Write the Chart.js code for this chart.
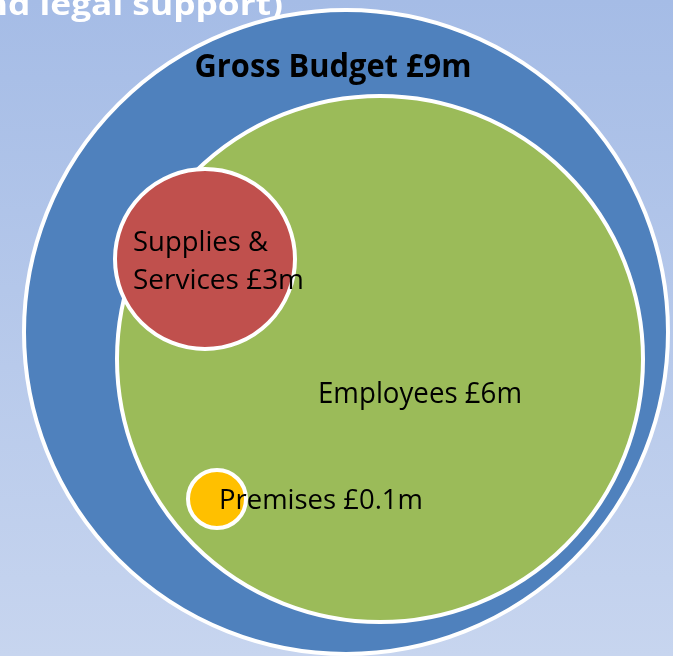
<!DOCTYPE html>
<html>
<head>
<meta charset="utf-8">
<script src="https://cdn.jsdelivr.net/npm/chart.js@4.4.1/dist/chart.umd.min.js"></script>
<style>
  html, body { margin: 0; padding: 0; }
  #wrap { width: 673px; height: 656px; }
</style>
</head>
<body>
<div id="wrap"><canvas id="myChart"></canvas></div>
<script>
// budget split, £m
const categories = ['Gross Budget', 'Employees', 'Supplies & Services', 'Premises'];
const budget = [9, 6, 3, 0.1];
// bubble data (x, y, radius)
const bubbleX = [346, 380, 205, 217];
const bubbleY = [332, 359, 259, 499];
const bubbleR = [322, 263, 90, 29];

const colores = ['#4f81bd', '#9bbb59', '#c0504d', '#ffc000'];

// label placement relative to each bubble centre
const etiquetas = [
    { lines: [categories[0] + ' £' + budget[0] + 'm'], dx: -13, dy: [-255], align: 'center', bold: true, size: 33, width: [277] },
    { lines: [categories[1] + ' £' + budget[1] + 'm'], dx: 40, dy: [44], align: 'center', bold: false, size: 29, width: [204] },
    { lines: ['Supplies &', 'Services £' + budget[2] + 'm'], dx: -72, dy: [-8, 30], align: 'left', bold: false, size: 27, width: [135, 171] },
    { lines: [categories[3] + ' £' + budget[3] + 'm'], dx: 2, dy: [10], align: 'left', bold: false, size: 28, width: [204] }
];

// draws text squeezed/stretched to a given width
function textoAjustado(c, t, x, y, ancho, align) {
    const w = c.measureText(t).width;
    const s = ancho / w;
    c.save();
    c.translate(x, y);
    c.scale(s, 1);
    c.textAlign = align;
    c.fillText(t, 0, 0);
    c.restore();
}

const fondo = {
    id: 'fondo',
    beforeDraw(chart) {
        const c = chart.ctx;
        const g = c.createLinearGradient(0, 0, 0, chart.height);
        g.addColorStop(0, '#a5bce6');
        g.addColorStop(1, '#c7d5ef');
        c.save();
        c.fillStyle = g;
        c.fillRect(0, 0, chart.width, chart.height);
        // title text cut off at the top edge
        c.fillStyle = '#ffffff';
        c.font = 'bold 30px "Open Sans"';
        c.textBaseline = 'alphabetic';
        const s = 275 / c.measureText('d legal support)').width;
        c.translate(283, 15);
        c.scale(s, 1);
        c.textAlign = 'right';
        c.fillText('and legal support)', 0, 0);
        c.restore();
    }
};

const textos = {
    id: 'textos',
    afterDatasetsDraw(chart) {
        const c = chart.ctx;
        const xs = chart.scales.x, ys = chart.scales.y;
        c.save();
        c.fillStyle = '#000000';
        c.textBaseline = 'alphabetic';
        etiquetas.forEach(function (e, i) {
            const cx = xs.getPixelForValue(bubbleX[i]);
            const cy = ys.getPixelForValue(bubbleY[i]);
            c.font = (e.bold ? 'bold ' : '') + e.size + 'px "Open Sans"';
            e.lines.forEach(function (t, j) {
                textoAjustado(c, t, cx + e.dx, cy + e.dy[j], e.width[j], e.align);
            });
        });
        c.restore();
    }
};

const ctx = document.getElementById('myChart').getContext('2d');
const myChart = new Chart(ctx, {
    type: 'bubble',
    data: {
        labels: categories,
        datasets: [{
            label: 'budget',
            data: categories.map(function (c, i) {
                return { x: bubbleX[i], y: bubbleY[i], r: bubbleR[i] };
            }),
            backgroundColor: colores,
            borderColor: '#ffffff',
            borderWidth: 4,
            hoverBorderWidth: 4,
            hoverRadius: 0,
            clip: false
        }]
    },
    options: {
        responsive: true,
        maintainAspectRatio: false,
        animation: false,
        events: [],
        layout: { padding: 0, autoPadding: false },
        scales: {
            x: { type: 'linear', min: 0, max: 673, display: false },
            y: { type: 'linear', min: 0, max: 656, reverse: true, display: false }
        },
        plugins: {
            legend: { display: false },
            tooltip: { enabled: false }
        }
    },
    plugins: [fondo, textos]
});
</script>
</body>
</html>
